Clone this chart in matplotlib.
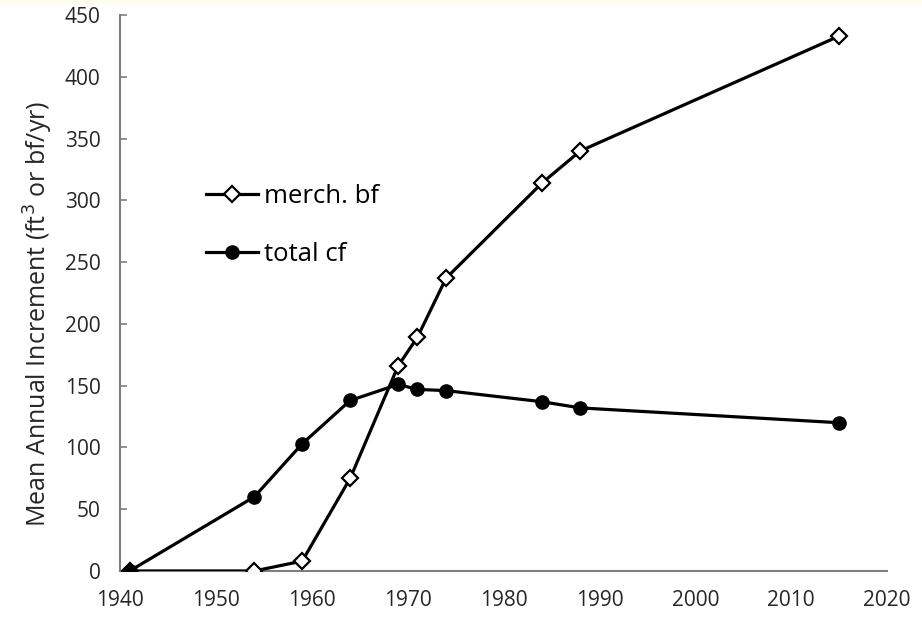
import matplotlib
matplotlib.use("Agg")
import matplotlib.pyplot as plt
from matplotlib.patches import Rectangle

# ── Data ──────────────────────────────────────────────────────────────────────
years = [1941, 1954, 1959, 1964, 1969, 1971, 1974, 1984, 1988, 2015]
merch_bf = [0, 0, 8, 75, 166, 189, 237, 314, 340, 433]
total_cf = [0, 60, 103, 138, 151, 147, 146, 137, 132, 120]

x_ticks = list(range(1940, 2021, 10))
y_ticks = list(range(0, 451, 50))

plt.rcParams.update({
    "font.family": ["Open Sans", "DejaVu Sans"],
    "axes.spines.top": False,
    "axes.spines.right": False,
})

fig = plt.figure(figsize=(9.22, 6.17), dpi=100, facecolor="white")
fig.patches.append(Rectangle((0, 0.995), 1, 0.005, transform=fig.transFigure,
                             color="#fdfdf0", zorder=-1))
ax = fig.add_axes([0.1302, 0.0746, 0.832, 0.901])

ax.plot(years, merch_bf, color="black", lw=2.3, marker="D", ms=8.5,
        mfc="white", mec="black", mew=1.6, label="merch. bf", zorder=3)
ax.plot(years, total_cf, color="black", lw=2.3, marker="o", ms=9.5,
        mfc="black", mec="black", label="total cf", zorder=4)

ax.set_xlim(1940, 2020)
ax.set_ylim(0, 450)
ax.set_xticks(x_ticks)
ax.set_yticks(y_ticks)
ax.tick_params(axis="x", length=0, pad=14, labelsize=15, labelcolor="#262626")
ax.tick_params(axis="y", direction="in", length=5, width=1.2, color="#7f7f7f",
               pad=14, labelsize=15, labelcolor="#262626")
for side in ("left", "bottom"):
    ax.spines[side].set_color("#7f7f7f")
    ax.spines[side].set_linewidth(1.5)
ax.spines["bottom"].set_zorder(1)

ax.set_ylabel("Mean Annual Increment (ft$^3$ or bf/yr)", fontsize=18,
              color="#262626")
ax.yaxis.set_label_coords(-0.085, 0.463)

ax.legend(loc="upper left", bbox_to_anchor=(0.095, 0.72), frameon=False,
          fontsize=18.5, handlelength=2.05, handletextpad=0.2, labelspacing=1.3,
          borderpad=0)

fig.savefig("out.png", dpi=100, facecolor=fig.get_facecolor())
